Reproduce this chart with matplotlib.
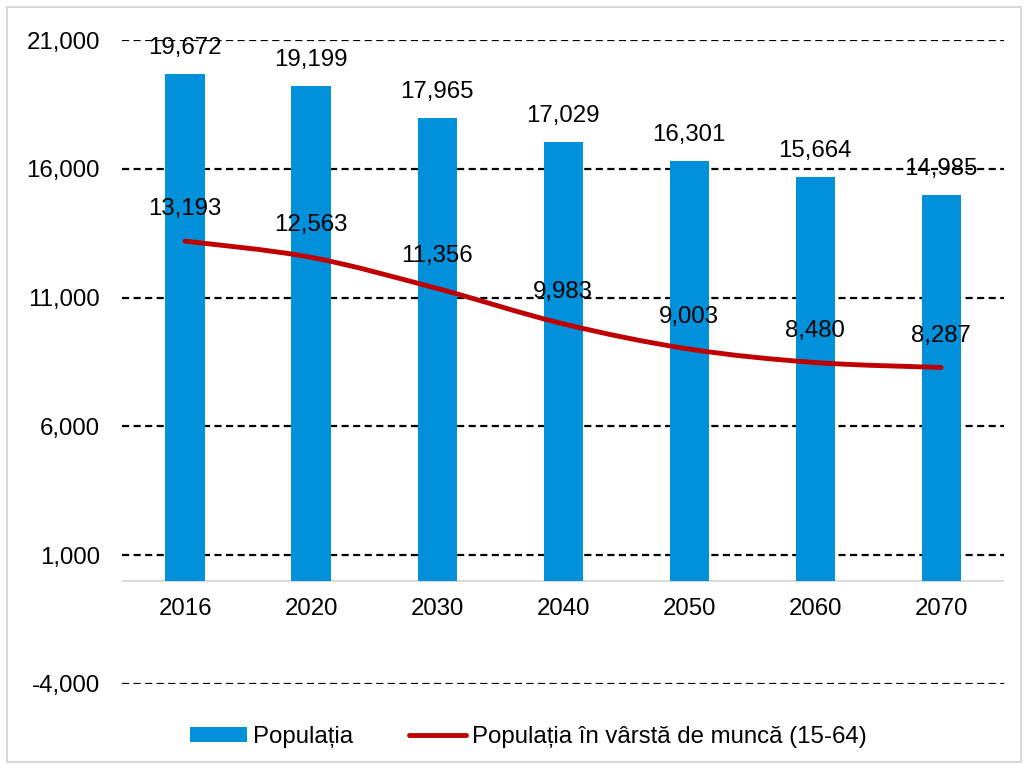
import numpy as np
import matplotlib.pyplot as plt
from matplotlib.path import Path
from matplotlib.patches import PathPatch, Patch, Rectangle
from matplotlib.lines import Line2D

plt.rcParams['font.family'] = ['Liberation Sans', 'DejaVu Sans']

years = ['2016', '2020', '2030', '2040', '2050', '2060', '2070']
populatia = [19672, 19199, 17965, 17029, 16301, 15664, 14985]
varsta_munca = [13193, 12563, 11356, 9983, 9003, 8480, 8287]
yticks = [-4000, 1000, 6000, 11000, 16000, 21000]

blue = '#0091DA'
red = '#C00000'
fs = 17.3


def smooth_path(xs, ys, t=1/6):
    """Bezier path through the points (Catmull-Rom style, like Excel smoothed lines)"""
    verts = [(xs[0], ys[0])]
    codes = [Path.MOVETO]
    n = len(xs)
    for i in range(n - 1):
        x0, y0 = (xs[i - 1], ys[i - 1]) if i > 0 else (xs[i], ys[i])
        x1, y1 = xs[i], ys[i]
        x2, y2 = xs[i + 1], ys[i + 1]
        x3, y3 = (xs[i + 2], ys[i + 2]) if i + 2 < n else (x2, y2)
        verts += [(x1 + (x2 - x0) * t, y1 + (y2 - y0) * t),
                  (x2 - (x3 - x1) * t, y2 - (y3 - y1) * t),
                  (x2, y2)]
        codes += [Path.CURVE4] * 3
    return Path(verts, codes)


fig = plt.figure(figsize=(10.28, 7.68), dpi=100)
ax = fig.add_axes([0.1187, 0.1094, 0.858, 0.8385])

x = np.arange(len(years))
ax.bar(x, populatia, width=0.31, color=blue, zorder=3)

path = smooth_path(list(x), varsta_munca)
ax.add_patch(PathPatch(path, facecolor='none', edgecolor=red, lw=3.5,
                       capstyle='round', zorder=4))

for xi, v in zip(x, populatia):
    ax.annotate(f'{v:,}', (xi, v), xytext=(0, 19), textcoords='offset points',
                ha='center', va='center', fontsize=fs, zorder=1)
for xi, v in zip(x, varsta_munca):
    ax.annotate(f'{v:,}', (xi, v), xytext=(0, 23), textcoords='offset points',
                ha='center', va='center', fontsize=fs, zorder=5)
for xi, lab in zip(x, years):
    ax.annotate(lab, (xi, 0), xytext=(0, -20), textcoords='offset points',
                ha='center', va='center', fontsize=fs)

ax.set_xlim(-0.5, len(years) - 0.5)
ax.set_ylim(-4000, 21000)
ax.set_yticks(yticks)
ax.set_yticklabels([f'{v:,}' for v in yticks], fontsize=fs)
ax.set_xticks([])
ax.tick_params(axis='y', length=0, pad=16)
for v in yticks:
    ax.axhline(v, color='black', lw=1.6, ls=(0, (3.2, 2.0)), zorder=2)
ax.axhline(0, color='#D9D9D9', lw=1.4, zorder=2)
for s in ax.spines.values():
    s.set_visible(False)

handles = [Patch(facecolor=blue, edgecolor='none'),
           Line2D([0], [0], color=red, lw=3.5, solid_capstyle='round')]
fig.legend(handles, ['Populația', 'Populația în vârstă de muncă (15-64)'],
           loc='center', bbox_to_anchor=(0.514, 0.04), ncol=2, frameon=False,
           fontsize=fs, handlelength=2.4, handleheight=0.6, handletextpad=0.25,
           columnspacing=2.3)

fig.add_artist(Rectangle((0.007, 0.008), 0.986, 0.983, transform=fig.transFigure,
                         facecolor='none', edgecolor='#D9D9D9', lw=1.5))

fig.savefig('out.png', dpi=100)
